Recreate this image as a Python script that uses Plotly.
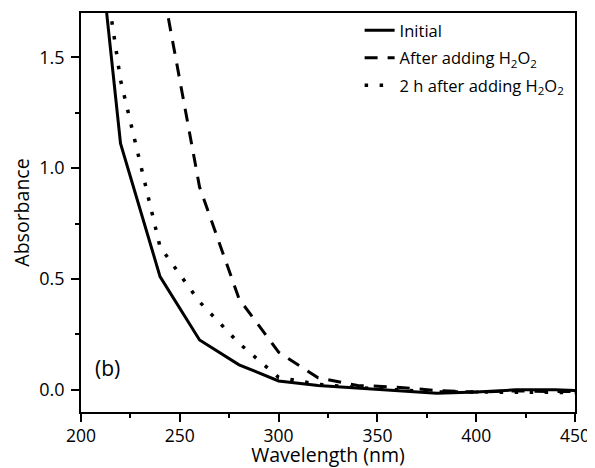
import plotly.graph_objects as go

wl_initial = [200, 220, 240, 260, 280, 300, 320, 340, 360, 380, 400, 420, 440, 450]
abs_initial = [2.79, 1.112, 0.511, 0.225, 0.113, 0.04, 0.02, 0.008, -0.005, -0.015, -0.01, 0.0, 0.0, -0.003]

wl_after = [240, 260, 280, 300, 320, 340, 360, 380, 400, 420, 440, 450]
abs_after = [1.88, 0.915, 0.41, 0.17, 0.054, 0.02, 0.012, -0.003, -0.01, -0.005, -0.008, -0.008]

wl_2h = [200, 220, 240, 260, 280, 300, 320, 340, 360, 380, 400, 420, 440, 450]
abs_2h = [2.6, 1.398, 0.645, 0.397, 0.21, 0.056, 0.025, 0.01, 0.0, -0.01, -0.01, -0.012, -0.012, -0.012]

names = ["Initial", "After adding H<sub>2</sub>O<sub>2</sub>", "2 h after adding H<sub>2</sub>O<sub>2</sub>"]

FONT = "Open Sans"

fig = go.Figure()
fig.add_trace(go.Scatter(x=wl_initial, y=abs_initial, mode="lines", name=names[0],
                         legendgroup="a", line=dict(color="black", width=3, dash="solid")))
fig.add_trace(go.Scatter(x=wl_after, y=abs_after, mode="lines", name=names[1],
                         legendgroup="b", line=dict(color="black", width=3, dash="13px,10px")))
fig.add_trace(go.Scatter(x=wl_2h, y=abs_2h, mode="lines", name=names[2],
                         legendgroup="c", line=dict(color="black", width=3.5, dash="3.5px,11.5px")))

fig.add_annotation(x=206.2, y=0.099, xref="x", yref="y", text="(b)", showarrow=False,
                   xanchor="left", yanchor="middle", font=dict(family=FONT, size=21, color="black"))

axis_common = dict(showline=True, linecolor="black", linewidth=1.5, mirror=True,
                   ticks="outside", ticklen=8, tickwidth=1.5, tickcolor="black",
                   showgrid=False, zeroline=False,
                   title_font=dict(family=FONT, size=19.5, color="black"))

fig.update_xaxes(range=[200, 450], tick0=200, dtick=50,
                 minor=dict(ticks="outside", ticklen=4, tickwidth=1.5, tickcolor="black", dtick=25, tick0=200),
                 tickfont=dict(family=FONT, size=17.5, color="black"), ticklabelstandoff=-1,
                 title_text="Wavelength (nm)", title_standoff=4, **axis_common)
fig.update_yaxes(range=[-0.1, 1.7], tick0=0, dtick=0.5, tickformat=".1f",
                 minor=dict(ticks="outside", ticklen=4, tickwidth=1.5, tickcolor="black", dtick=0.25, tick0=0),
                 tickfont=dict(family=FONT, size=18, color="black"), ticklabelstandoff=3,
                 title_text="Absorbance", title_standoff=8, **axis_common)

fig.update_layout(
    width=605, height=460,
    margin=dict(l=73, r=38, t=5, b=56, autoexpand=False),
    plot_bgcolor="white", paper_bgcolor="white",
    font=dict(family=FONT, color="black"),
    legend=dict(x=0.564, y=1.0, xanchor="left", yanchor="top",
                bgcolor="rgba(0,0,0,0)", borderwidth=0, tracegroupgap=3,
                font=dict(family=FONT, size=16.5, color="black")),
)

fig.write_html("out.html")
